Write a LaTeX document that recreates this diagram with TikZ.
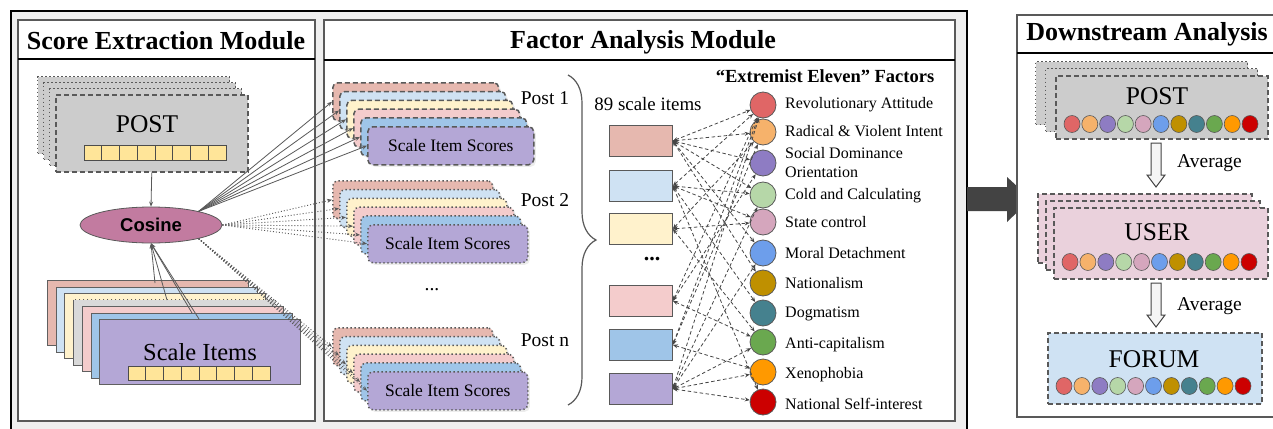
\documentclass[tikz,border=0pt]{standalone}
\usepackage{fontspec}
\setmainfont{Liberation Serif}
\newfontfamily\arialf{Liberation Sans}
\usetikzlibrary{shadows,arrows.meta,decorations.pathreplacing,calc,shapes.geometric}
\definecolor{bgc}{HTML}{EFEFEF}
\definecolor{la}{HTML}{E6B8AF}
\definecolor{lb}{HTML}{CFE2F3}
\definecolor{lc}{HTML}{FFF2CC}
\definecolor{ld}{HTML}{D9D9D9}
\definecolor{le}{HTML}{F4CCCC}
\definecolor{lf}{HTML}{9FC5E8}
\definecolor{lg}{HTML}{B4A7D6}
\definecolor{fa}{HTML}{E06666}
\definecolor{fb}{HTML}{F6B26B}
\definecolor{fc}{HTML}{8E7CC3}
\definecolor{fd}{HTML}{B6D7A8}
\definecolor{fe}{HTML}{D5A6BD}
\definecolor{ff}{HTML}{6D9EEB}
\definecolor{fg}{HTML}{BF9000}
\definecolor{fh}{HTML}{45818E}
\definecolor{fi}{HTML}{6AA84F}
\definecolor{fj}{HTML}{FF9900}
\definecolor{fk}{HTML}{CC0000}
\definecolor{cellc}{HTML}{FFE599}
\definecolor{cosc}{HTML}{C27BA0}
\definecolor{postc}{HTML}{CCCCCC}
\definecolor{userc}{HTML}{EAD1DC}
\definecolor{forumc}{HTML}{CFE2F3}
\definecolor{edgec}{HTML}{595959}
\definecolor{arrc}{HTML}{434343}
\tikzset{
 ttl/.style={font=\fontsize{26}{28}\selectfont\bfseries, inner sep=0},
 modline/.style={draw=edgec, line width=1.6pt, fill=white},
 sepline/.style={draw=black, line width=1.5pt},
 lay/.style={anchor=north west, inner sep=0, draw=gray!75!black, line width=0.8pt, minimum width=201pt, minimum height=65pt},
 cell/.style={draw=gray!60!black, fill=cellc, line width=0.6pt},
 pst/.style={anchor=north west, inner sep=0, rounded corners=5pt, minimum height=38pt, draw=edgec, line width=1.5pt, drop shadow={opacity=0.15,shadow xshift=2pt,shadow yshift=-2pt}},
 dashbd/.style={dash pattern=on 5pt off 3pt},
 dotbd/.style={dash pattern=on 1.3pt off 2.7pt},
 card/.style={anchor=north west, inner sep=0, line width=1.5pt, draw=edgec},
 big/.style={font=\fontsize{25.5}{28}\selectfont, inner sep=0},
 lbl/.style={font=\fontsize{19.5}{22}\selectfont, inner sep=0},
 fac/.style={circle, minimum size=26pt, inner sep=0, draw=edgec, line width=0.8pt},
 flbl/.style={font=\fontsize{16}{19}\selectfont, inner sep=0, anchor=west, align=left},
 dotc/.style={ellipse, minimum width=16pt, minimum height=17pt, inner sep=0, draw=edgec, line width=0.6pt},
 sitem/.style={anchor=north west, inner sep=0, minimum width=63pt, minimum height=31pt, draw=edgec, line width=0.8pt},
 conn/.style={draw=gray!55!black, line width=0.8pt, dash pattern=on 3.5pt off 2.5pt, {Stealth[length=5pt,width=4pt]}-{Stealth[length=5pt,width=4pt]}},
 solidarr/.style={draw=edgec, line width=0.8pt, -{Stealth[length=5pt,width=4pt]}},
 dotarr/.style={draw=gray!70!black, line width=0.9pt, dash pattern=on 1pt off 2pt, -{Stealth[length=5pt,width=4pt]}},
 openarr/.style={fill=gray!8, draw=arrc, line width=1pt},
}
\begin{document}
\begin{tikzpicture}[x=1pt,y=-1pt]
\useasboundingbox (0,0) rectangle (1273,428);
\fill[white] (0,0) rectangle (1273,428);
% outer frame
\draw[line width=2pt, fill=bgc] (11,11) rectangle (967,440);
% big arrow
\fill[arrc] (967,187) -- (1007,187) -- (1007,177) -- (1031,199) -- (1007,222) -- (1007,211) -- (967,211) -- cycle;
% modules
\draw[modline] (18,20) rectangle (315,421);
\draw[sepline] (18,59) -- (315,59);
\node[ttl] (ttlA) at (166,41) {Score Extraction Module};
\draw[modline] (324,20) rectangle (955,421);
\draw[sepline] (324,60) -- (955,60);
\node[ttl] (ttlB) at (643,42) {Factor Analysis Module};
\draw[modline] (1017,15) rectangle (1290,417);
\draw[sepline] (1017,53) -- (1290,53);
\node[ttl] (ttlC) at (1147,34) {Downstream Analysis};

% ---------- Score extraction ----------
\foreach \k in {0,1,2} {
  \node[card, dotbd, fill=postc, line width=1.2pt, minimum width=192pt, minimum height=77pt] (pb\k) at ({37+6*\k},{76+6*\k}) {};
}
\node[card, dashbd, fill=postc, minimum width=192pt, minimum height=77pt] (pm) at (55,94) {};
\node[big] (postA) at (147,124) {POST};
\foreach \i in {0,...,7} { \draw[cell] ({84+17.75*\i},145) rectangle ++(17.75,15); }
\node[ellipse, minimum width=142pt, minimum height=36pt, inner sep=0, fill=cosc, draw=gray!70!black, line width=0.8pt] (cos) at (151,225) {\fontsize{18.5}{20}\selectfont\arialf\bfseries Cosine};
\draw[solidarr] (pm.south) -- (cos.north);
\foreach \k/\c in {0/la,1/lb,2/lc,3/ld,4/le,5/lf,6/lg} {
  \node[lay, fill=\c] (sl\k) at ({47+8.7*\k},{280+6.5*\k}) {};
}
\node[lay, fill=ld, draw=none] (slx) at (73.1,299.5) {};
\draw[gray!75!black, line width=0.8pt, dotbd] (slx.north west) rectangle (slx.south east);
\foreach \k/\c in {4/le,5/lf,6/lg} {
  \node[lay, fill=\c] (sm\k) at ({47+8.7*\k},{280+6.5*\k}) {};
}
\node[big, font=\fontsize{24.5}{27}\selectfont] (siA) at (200,352) {Scale Items};
\foreach \i in {0,...,7} { \draw[cell] ({128+17.75*\i},366) rectangle ++(17.75,14); }
\coordinate (s0) at (155,283);
\coordinate (s1) at (167,300);
\coordinate (s2) at (192,313);
\coordinate (s3) at (199,319);
\foreach \s in {s0,s1,s2,s3} { \draw[solidarr] (\s) -- (cos.south); }

% ---------- Post stacks ----------
\foreach \k/\c in {0/la,1/lb,2/lc,3/le,4/lf,5/lg} {
  \node[pst, dashbd, fill=\c, minimum width=166pt] (pa\k) at ({332+7*\k},{82+8.8*\k}) {};
}
\node[font=\fontsize{17.5}{20}\selectfont, inner sep=0] (psa) at (pa5.center) {Scale Item Scores};
\foreach \k/\c in {0/la,1/lb,2/lc,3/le,4/lf,5/lg} {
  \node[pst, dotbd, fill=\c, minimum width=160pt] (pb\k) at ({332+7*\k},{180+8.8*\k}) {};
}
\node[font=\fontsize{17.5}{20}\selectfont, inner sep=0] (psb) at (pb5.center) {Scale Item Scores};
\foreach \k/\c in {0/la,1/lb,2/lc,3/le,4/lf,5/lg} {
  \node[pst, dotbd, fill=\c, minimum width=160pt] (pn\k) at ({332+7*\k},{327+8.8*\k}) {};
}
\node[font=\fontsize{17.5}{20}\selectfont, inner sep=0] (psn) at (pn5.center) {Scale Item Scores};
\foreach \k in {0,...,5} {
  \draw[solidarr] (cos.16) -- (pa\k.west);
  \draw[dotarr] (cos.east) -- (pb\k.west);
  \draw[dotarr] (cos.-16) -- (pn\k.west);
}
\node[lbl] (p1) at (545,98) {Post 1};
\node[lbl] (p2) at (545,200) {Post 2};
\node[lbl] (pn) at (545,340) {Post n};
\node[lbl] (dotsA) at (432,290) {...};
\draw[edgec, line width=1.2pt, decorate, decoration={brace, amplitude=28pt}] (568,75) -- (568,405);

% ---------- factors ----------
\node[lbl, font=\fontsize{18.9}{21}\selectfont] (nsi) at (648,104) {89 scale items};
\foreach \k/\c/\y in {1/la/125,2/lb/170,3/lc/213,4/le/285,5/lf/329,6/lg/373} {
  \node[sitem, fill=\c] (r\k) at (609,\y) {};
}
\node[lbl, font=\fontsize{22}{24}\selectfont\bfseries] (dotsB) at (652,259) {...};
\node[inner sep=0, font=\fontsize{18.5}{21}\selectfont\bfseries] (fttl) at (825,76) {“Extremist Eleven” Factors};
\foreach \k/\c/\y in {1/fa/105,2/fb/132,3/fc/163,4/fd/195,5/fe/222,6/ff/253,7/fg/283,8/fh/313,9/fi/342,10/fj/372,11/fk/402} {
  \node[fac, fill=\c] (f\k) at (763,\y) {};
}
\foreach \a/\b in {1/1,1/2,1/3,1/4,1/6,1/7,2/1,2/4,2/5,2/8,2/11,3/5,3/2,3/9,4/9,4/1,4/3,5/10,5/1,5/2,6/9,6/10,6/11,6/1,6/4,6/6} {
  \draw[conn] (r\a.east) -- (f\b);
}
\node[flbl] (g1) at (785,105) {Revolutionary Attitude};
\node[flbl] (g2) at (785,131) {Radical \& Violent Intent};
\node[flbl] (g3) at (785,163) {Social Dominance\\Orientation};
\node[flbl] (g4) at (785,196) {Cold and Calculating};
\node[flbl] (g5) at (785,222) {State control};
\node[flbl] (g6) at (785,253) {Moral Detachment};
\node[flbl] (g7) at (785,283) {Nationalism};
\node[flbl] (g8) at (785,314) {Dogmatism};
\node[flbl] (g9) at (785,345) {Anti-capitalism};
\node[flbl] (g10) at (785,375) {Xenophobia};
\node[flbl] (g11) at (785,404) {National Self-interest};

% ---------- downstream ----------
\node[card, dotbd, fill=postc, line width=1.2pt, minimum width=212pt, minimum height=63pt] (db0) at (1035,61) {};
\node[card, dotbd, fill=postc, line width=1.2pt, minimum width=212pt, minimum height=63pt] (db1) at (1045,68) {};
\node[card, dashbd, fill=postc, minimum width=212pt, minimum height=63pt] (dpost) at (1055,75) {};
\node[big] (dpt) at (1157,96) {POST};
\node[card, dashbd, fill=userc, minimum width=214pt, minimum height=69pt] (du0) at (1037,193) {};
\node[card, dashbd, fill=userc, minimum width=214pt, minimum height=69pt] (du1) at (1045,200) {};
\node[card, dashbd, fill=userc, minimum width=214pt, minimum height=71pt] (duser) at (1053,207) {};
\node[big] (dut) at (1157,232) {USER};
\node[card, dashbd, fill=forumc, minimum width=214pt, minimum height=71pt] (dforum) at (1047,332) {};
\node[big] (dft) at (1154,359) {FORUM};
\foreach \i/\c in {0/fa,1/fb,2/fc,3/fd,4/fe,5/ff,6/fg,7/fh,8/fi,9/fj,10/fk} {
  \node[dotc, fill=\c] (pr\i) at ({1072+17.8*\i},124) {};
  \node[dotc, fill=\c] (ur\i) at ({1070+17.9*\i},262) {};
  \node[dotc, fill=\c] (fr\i) at ({1064+17.9*\i},386) {};
}
\draw[openarr] (1151,143) -- (1161,143) -- (1161,175) -- (1165,175) -- (1156,187) -- (1147,175) -- (1151,175) -- cycle;
\draw[openarr] (1151,283) -- (1161,283) -- (1161,315) -- (1165,315) -- (1156,327) -- (1147,315) -- (1151,315) -- cycle;
\node[lbl, anchor=west] (avg1) at (1177,163) {Average};
\node[lbl, anchor=west] (avg2) at (1177,306) {Average};
\end{tikzpicture}
\end{document}
